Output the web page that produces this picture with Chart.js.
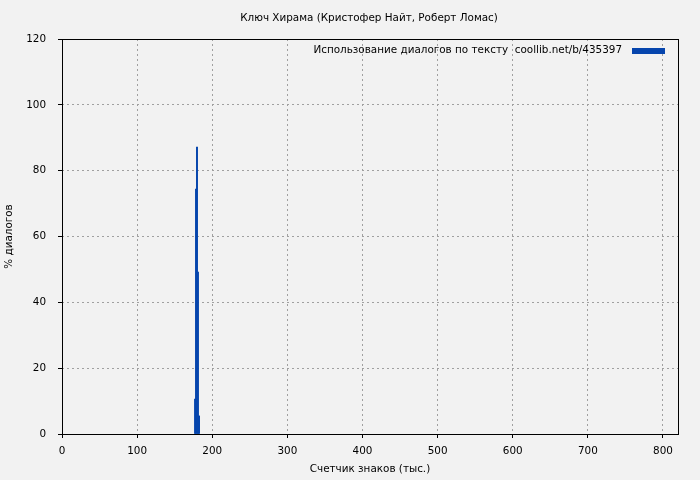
<!DOCTYPE html>
<html>
<head>
<meta charset="utf-8">
<script src="https://cdn.jsdelivr.net/npm/chart.js@4/dist/chart.umd.min.js"></script>
<style>
  html, body { margin: 0; padding: 0; background: #f2f2f2; }
  #wrap { width: 700px; height: 480px; }
</style>
</head>
<body>
<div id="wrap"><canvas id="c" width="700" height="480"></canvas></div>
<script>
// thousands of characters / % of dialogue
const charCounts = [177.1, 178.4, 179.7, 181.0, 182.4];
const dialogPct = [10.6, 74.4, 87.2, 49.2, 5.5];
const xTicks = [0, 100, 200, 300, 400, 500, 600, 700, 800];
const yTicks = [0, 20, 40, 60, 80, 100, 120];

const chartTitle = 'Ключ Хирама (Кристофер Найт, Роберт Ломас)';
const legendText = 'Использование диалогов по тексту  coollib.net/b/435397';
const barColor = '#0645ad';
const fontFamily = '"DejaVu Sans", sans-serif';
const fontSize = 10.4;

Chart.defaults.font.family = fontFamily;
Chart.defaults.font.size = fontSize;
Chart.defaults.color = '#000';

const bgPlugin = {
    id: 'bg',
    beforeDraw(chart) {
        const ctx = chart.ctx;
        ctx.save();
        ctx.fillStyle = '#f2f2f2';
        ctx.fillRect(0, 0, chart.width, chart.height);
        ctx.restore();
    },
    afterDraw(chart) {
        const a = chart.chartArea;
        const ctx = chart.ctx;
        ctx.save();
        ctx.strokeStyle = '#000';
        ctx.lineWidth = 1;
        ctx.strokeRect(a.left + 0.5, a.top + 0.5, a.right - a.left, a.bottom - a.top);
        ctx.font = fontSize + 'px ' + fontFamily;
        ctx.fillStyle = '#000';
        ctx.textBaseline = 'middle';
        // title, centred over the plot like gnuplot
        ctx.textAlign = 'center';
        ctx.fillText(chartTitle, 369, 18);
        // legend (gnuplot style, inside top right)
        ctx.textAlign = 'right';
        ctx.fillText(legendText, a.right - 56, a.top + 11.5);
        ctx.fillStyle = barColor;
        ctx.fillRect(a.right - 46, a.top + 9, 33, 6);
        ctx.restore();
    }
};

const ctx = document.getElementById('c').getContext('2d');
new Chart(ctx, {
    type: 'bar',
    data: {
        datasets: [{
            data: charCounts.map((x, i) => ({ x: x, y: dialogPct[i] })),
            backgroundColor: barColor,
            barThickness: 1.3,
            borderWidth: 0
        }]
    },
    options: {
        responsive: false,
        animation: false,
        layout: { padding: { left: 0, right: 22, top: 39, bottom: 0 } },
        plugins: {
            legend: { display: false },
            tooltip: { enabled: false },
            title: { display: false }
        },
        scales: {
            x: {
                type: 'linear',
                offset: false,
                min: 0,
                max: 820,
                afterBuildTicks(scale) {
                    scale.ticks = xTicks.map(v => ({ value: v }));
                },
                afterFit(scale) { scale.height = 46; },
                ticks: { maxRotation: 0, padding: 7, autoSkip: false },
                grid: { offset: false, color: '#a0a0a0', tickColor: '#000', tickLength: 4, tickBorderDash: [] },
                border: { display: false, dash: [2, 3] },
                title: { display: true, text: 'Счетчик знаков (тыс.)', padding: { bottom: 4, top: 0 } }
            },
            y: {
                min: 0,
                max: 120,
                afterBuildTicks(scale) {
                    scale.ticks = yTicks.map(v => ({ value: v }));
                },
                afterFit(scale) { scale.width = 62; },
                ticks: { padding: 12 },
                grid: { color: '#a0a0a0', tickColor: '#000', tickLength: 4, tickBorderDash: [] },
                border: { display: false, dash: [2, 3] },
                title: { display: true, text: '% диалогов', padding: { top: 3.4, bottom: 0 } }
            }
        }
    },
    plugins: [bgPlugin]
});
</script>
</body>
</html>
